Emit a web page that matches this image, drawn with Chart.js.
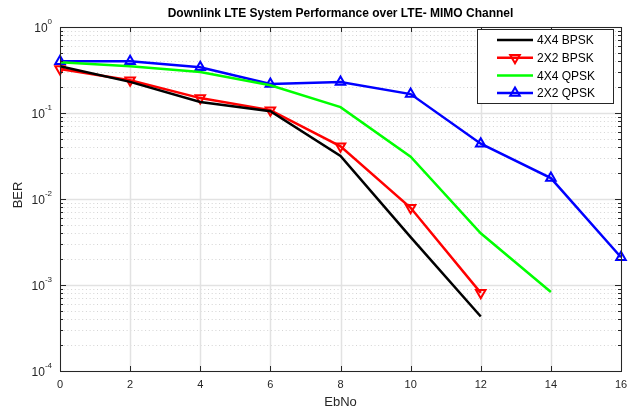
<!DOCTYPE html>
<html>
<head>
<meta charset="utf-8">
<script src="https://cdn.jsdelivr.net/npm/chart.js@4/dist/chart.umd.min.js"></script>
<style>
  html, body { margin: 0; padding: 0; background: #fff; }
  canvas { display: block; }
</style>
</head>
<body>
<canvas id="berChart" width="633" height="410"></canvas>
<script>
// data
const ebno = [0, 2, 4, 6, 8, 10, 12, 14, 16];
const ber4x4Bpsk = [0.35, 0.23, 0.134, 0.105, 0.0316, 0.0036, 0.00043];
const ber2x2Bpsk = [0.325, 0.24, 0.149, 0.108, 0.041, 0.0079, 0.00081];
const ber4x4Qpsk = [0.39, 0.35, 0.30, 0.21, 0.117, 0.031, 0.004, 0.00083];
const ber2x2Qpsk = [0.40, 0.40, 0.34, 0.217, 0.229, 0.166, 0.044, 0.0175, 0.0021];
const seriesNames = ['4X4 BPSK', '2X2 BPSK', '4X4 QPSK', '2X2 QPSK'];
const xTicks = [0, 2, 4, 6, 8, 10, 12, 14, 16];
const yDecades = [-4, -3, -2, -1, 0];

const FONT = '"Liberation Sans", Arial, sans-serif';

function toPoints(arr) {
    return arr.map((v, i) => ({ x: ebno[i], y: v }));
}

// all 1..9 x 10^n ticks for the log axis
function logTicks() {
    const t = [];
    for (let e = yDecades[0]; e < yDecades[yDecades.length - 1]; e++) {
        for (let s = 1; s < 10; s++) t.push({ value: s * Math.pow(10, e), major: s === 1 });
    }
    t.push({ value: Math.pow(10, yDecades[yDecades.length - 1]), major: true });
    return t;
}

// MATLAB style frame, grid, ticks, labels, legend
const matlabAxes = {
    id: 'matlabAxes',
    beforeDatasetsDraw(chart) {
        const { ctx, chartArea: a, scales: { x, y } } = chart;
        ctx.save();
        // minor dotted grid
        ctx.strokeStyle = '#d4d4d4';
        ctx.lineWidth = 1;
        ctx.setLineDash([1, 2.7]);
        y.ticks.forEach(t => {
            if (t.major) return;
            const py = Math.round(y.getPixelForValue(t.value)) + 0.5;
            ctx.beginPath(); ctx.moveTo(a.left, py); ctx.lineTo(a.right, py); ctx.stroke();
        });
        // major grid
        ctx.setLineDash([]);
        ctx.strokeStyle = '#e2e2e2';
        ctx.lineWidth = 1.5;
        y.ticks.forEach(t => {
            if (!t.major) return;
            const py = Math.round(y.getPixelForValue(t.value)) + 0.5;
            ctx.beginPath(); ctx.moveTo(a.left, py); ctx.lineTo(a.right, py); ctx.stroke();
        });
        x.ticks.forEach(t => {
            const px = Math.round(x.getPixelForValue(t.value)) + 0.5;
            ctx.beginPath(); ctx.moveTo(px, a.top); ctx.lineTo(px, a.bottom); ctx.stroke();
        });
        ctx.restore();
    },
    afterDatasetsDraw(chart) {
        const { ctx, chartArea: a, scales: { x, y } } = chart;
        ctx.save();
        // box
        ctx.strokeStyle = '#262626';
        ctx.lineWidth = 1;
        ctx.strokeRect(Math.round(a.left) + 0.5, Math.round(a.top) + 0.5,
            Math.round(a.right - a.left), Math.round(a.bottom - a.top));
        // y ticks, inward on both sides
        y.ticks.forEach(t => {
            const py = Math.round(y.getPixelForValue(t.value)) + 0.5;
            const len = t.major ? 6 : 3;
            ctx.beginPath();
            ctx.moveTo(a.left, py); ctx.lineTo(a.left + len, py);
            ctx.moveTo(a.right, py); ctx.lineTo(a.right - len, py);
            ctx.stroke();
        });
        // x ticks, inward top and bottom
        x.ticks.forEach(t => {
            const px = Math.round(x.getPixelForValue(t.value)) + 0.5;
            ctx.beginPath();
            ctx.moveTo(px, a.bottom); ctx.lineTo(px, a.bottom - 5);
            ctx.moveTo(px, a.top); ctx.lineTo(px, a.top + 5);
            ctx.stroke();
        });
        // x tick labels
        ctx.fillStyle = '#262626';
        ctx.font = '11px ' + FONT;
        ctx.textAlign = 'center';
        ctx.textBaseline = 'middle';
        x.ticks.forEach(t => {
            ctx.fillText(String(t.value), x.getPixelForValue(t.value), a.bottom + 14);
        });
        // y tick labels with superscript exponent
        y.ticks.forEach(t => {
            if (!t.major) return;
            const e = Math.round(Math.log10(t.value));
            const py = y.getPixelForValue(t.value);
            ctx.font = '8px ' + FONT;
            const ew = ctx.measureText(String(e)).width;
            ctx.textAlign = 'left';
            ctx.fillText(String(e), a.left - 8 - ew, py - 5);
            ctx.font = '12px ' + FONT;
            ctx.textAlign = 'right';
            ctx.fillText('10', a.left - 8 - ew, py + 2);
        });
        // axis titles
        ctx.font = '13px ' + FONT;
        ctx.textAlign = 'center';
        ctx.fillText('EbNo', (a.left + a.right) / 2, a.bottom + 31);
        ctx.save();
        ctx.translate(18, (a.top + a.bottom) / 2 - 4);
        ctx.rotate(-Math.PI / 2);
        ctx.fillText('BER', 0, 0);
        ctx.restore();
        // title
        ctx.font = 'bold 12px ' + FONT;
        ctx.fillStyle = '#000';
        ctx.fillText('Downlink LTE System Performance over LTE- MIMO Channel', (a.left + a.right) / 2, 14);

        // legend box in upper right
        const bx = 477.5, by = 29.5, bw = 136, bh = 74;
        ctx.fillStyle = '#fff';
        ctx.fillRect(bx, by, bw, bh);
        ctx.strokeStyle = '#262626';
        ctx.lineWidth = 1;
        ctx.strokeRect(bx, by, bw, bh);
        chart.data.datasets.forEach((ds, i) => {
            const ry = 40 + i * 17.7;
            ctx.strokeStyle = ds.borderColor;
            ctx.lineWidth = 2.5;
            ctx.beginPath(); ctx.moveTo(497, ry); ctx.lineTo(533, ry); ctx.stroke();
            if (ds.pointRadius > 0) {
                const r = 5.5;
                const dir = ds.pointRotation === 180 ? 1 : -1;
                ctx.lineWidth = 2;
                ctx.beginPath();
                ctx.moveTo(515, ry + dir * r);
                ctx.lineTo(515 - r * 0.87, ry - dir * r * 0.5);
                ctx.lineTo(515 + r * 0.87, ry - dir * r * 0.5);
                ctx.closePath();
                ctx.stroke();
            }
            ctx.fillStyle = '#000';
            ctx.font = '12px ' + FONT;
            ctx.textAlign = 'left';
            ctx.fillText(ds.label, 537, ry + 1);
        });
        ctx.restore();
    }
};

const baseDs = { borderWidth: 2.5, tension: 0, clip: false, pointBackgroundColor: 'rgba(0,0,0,0)', pointBorderWidth: 2 };

new Chart(document.getElementById('berChart'), {
    type: 'line',
    data: {
        datasets: [
            { ...baseDs, label: seriesNames[0], data: toPoints(ber4x4Bpsk), borderColor: '#000000', pointRadius: 0 },
            { ...baseDs, label: seriesNames[1], data: toPoints(ber2x2Bpsk), borderColor: '#ff0000', pointStyle: 'triangle', pointRotation: 180, pointRadius: 5.5 },
            { ...baseDs, label: seriesNames[2], data: toPoints(ber4x4Qpsk), borderColor: '#00ff00', pointRadius: 0 },
            { ...baseDs, label: seriesNames[3], data: toPoints(ber2x2Qpsk), borderColor: '#0000ff', pointStyle: 'triangle', pointRotation: 0, pointRadius: 5.5 }
        ]
    },
    options: {
        responsive: false,
        animation: false,
        events: [],
        layout: { padding: { top: 27, right: 12, left: 0, bottom: 0 } },
        plugins: { legend: { display: false }, title: { display: false }, tooltip: { enabled: false } },
        scales: {
            x: {
                type: 'linear', min: 0, max: 16,
                ticks: { display: false, stepSize: 2 },
                afterBuildTicks: s => { s.ticks = xTicks.map(v => ({ value: v })); },
                grid: { display: false }, border: { display: false },
                afterFit: s => { s.height = 39; }
            },
            y: {
                type: 'logarithmic', min: Math.pow(10, yDecades[0]), max: Math.pow(10, yDecades[yDecades.length - 1]),
                ticks: { display: false },
                afterBuildTicks: s => { s.ticks = logTicks(); },
                grid: { display: false }, border: { display: false },
                afterFit: s => { s.width = 60; }
            }
        }
    },
    plugins: [matlabAxes]
});
</script>
</body>
</html>
